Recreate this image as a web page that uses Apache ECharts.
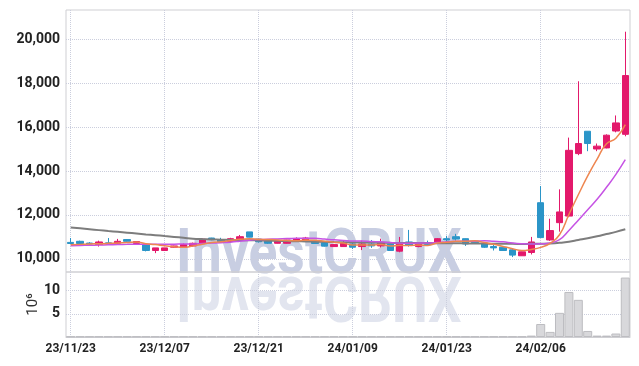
<!DOCTYPE html>
<html>
<head>
<meta charset="utf-8">
<script src="https://cdn.jsdelivr.net/npm/echarts@6/dist/echarts.min.js"></script>
<style>
  html, body { margin: 0; padding: 0; background: #fff; }
  #chart { width: 639px; height: 366px; }
</style>
</head>
<body>
<div id="chart"></div>
<script>
// trading days (KRX)
const dates = [
  '23/11/23', '23/11/24', '23/11/27', '23/11/28', '23/11/29', '23/11/30', '23/12/01', '23/12/04', '23/12/05', '23/12/06',
  '23/12/07', '23/12/08', '23/12/11', '23/12/12', '23/12/13', '23/12/14', '23/12/15', '23/12/18', '23/12/19', '23/12/20',
  '23/12/21', '23/12/22', '23/12/26', '23/12/27', '23/12/28', '24/01/02', '24/01/03', '24/01/04', '24/01/05', '24/01/08',
  '24/01/09', '24/01/10', '24/01/11', '24/01/12', '24/01/15', '24/01/16', '24/01/17', '24/01/18', '24/01/19', '24/01/22',
  '24/01/23', '24/01/24', '24/01/25', '24/01/26', '24/01/29', '24/01/30', '24/01/31', '24/02/01', '24/02/02', '24/02/05',
  '24/02/06', '24/02/07', '24/02/08', '24/02/13', '24/02/14', '24/02/15', '24/02/16', '24/02/19', '24/02/20', '24/02/21',
];

const opens = [
  10750, 10800, 10720, 10650, 10730, 10710, 10880, 10700, 10650, 10380,
  10380, 10530, 10550, 10590, 10700, 10950, 10860, 10800, 10860, 11230,
  10900, 10830, 10710, 10710, 10800, 10840, 10770, 10740, 10560, 10560,
  10680, 10560, 10680, 10590, 10680, 10350, 10770, 10560, 10740, 10710,
  10920, 11010, 10920, 10800, 10710, 10560, 10530, 10410, 10140, 10290,
  12560, 10860, 11650, 11950, 14800, 15820, 15010, 15060, 15830, 15680,
];
const closes = [
  10700, 10700, 10680, 10770, 10680, 10800, 10800, 10790, 10380, 10500,
  10500, 10590, 10650, 10710, 10900, 10880, 10770, 10920, 11010, 10990,
  10780, 10710, 10830, 10860, 10920, 10950, 10700, 10580, 10650, 10710,
  10530, 10680, 10590, 10740, 10380, 10710, 10620, 10710, 10650, 10920,
  10860, 10900, 10680, 10740, 10530, 10500, 10380, 10170, 10320, 10770,
  10970, 11290, 12140, 14950, 15260, 15260, 15140, 15640, 16200, 18360,
];
const lows = [
  10690, 10680, 10650, 10560, 10650, 10640, 10780, 10690, 10340, 10260,
  10370, 10510, 10500, 10560, 10680, 10850, 10750, 10780, 10850, 10980,
  10740, 10680, 10700, 10700, 10780, 10820, 10680, 10560, 10550, 10550,
  10450, 10400, 10500, 10520, 10380, 10300, 10560, 10530, 10620, 10680,
  10680, 10830, 10590, 10720, 10500, 10380, 10360, 10080, 10130, 10200,
  10950, 10820, 11240, 11900, 14730, 14910, 14910, 15040, 15770, 15590,
];
const highs = [
  10950, 10830, 10760, 10830, 10950, 10910, 10900, 10800, 10700, 10500,
  10500, 10600, 10700, 10740, 10920, 10960, 10960, 10960, 11090, 11230,
  10900, 10830, 10840, 10870, 10980, 11000, 10790, 10760, 10660, 10830,
  10760, 10830, 10860, 10920, 10700, 11000, 11320, 10740, 10830, 10950,
  11050, 11140, 10930, 10820, 10720, 10650, 10540, 10450, 10330, 11000,
  13320, 11830, 13170, 15530, 18100, 15820, 15260, 15680, 16540, 20360,
];

// moving averages
const ma5 = [
  10640, 10660, 10680, 10690, 10706, 10726, 10746, 10768, 10690, 10654,
  10594, 10552, 10524, 10590, 10670, 10746, 10782, 10836, 10896, 10914,
  10894, 10882, 10864, 10834, 10820, 10854, 10852, 10802, 10760, 10718,
  10634, 10630, 10632, 10650, 10584, 10620, 10608, 10632, 10614, 10722,
  10752, 10808, 10802, 10820, 10742, 10670, 10566, 10464, 10380, 10428,
  10522, 10704, 11098, 12024, 12922, 13780, 14550, 15250, 15500, 16120,
];
const ma10 = [
  10600, 10610, 10620, 10630, 10640, 10650, 10660, 10665, 10670, 10670,
  10660, 10669, 10676, 10680, 10702, 10720, 10737, 10760, 10803, 10852,
  10880, 10892, 10910, 10925, 10937, 10944, 10937, 10903, 10867, 10839,
  10814, 10811, 10787, 10775, 10741, 10717, 10709, 10722, 10722, 10743,
  10776, 10798, 10807, 10807, 10822, 10801, 10777, 10723, 10690, 10675,
  10686, 10725, 10871, 11292, 11765, 12241, 12717, 13264, 13852, 14521,
];
const ma60 = [
  11430, 11390, 11350, 11310, 11270, 11235, 11195, 11155, 11115, 11080,
  11040, 11000, 10960, 10920, 10900, 10885, 10875, 10865, 10855, 10845,
  10840, 10830, 10820, 10810, 10800, 10795, 10785, 10775, 10765, 10758,
  10750, 10745, 10740, 10735, 10730, 10727, 10724, 10721, 10718, 10716,
  10714, 10710, 10705, 10700, 10695, 10690, 10686, 10683, 10682, 10684,
  10690, 10700, 10730, 10780, 10860, 10940, 11030, 11130, 11230, 11350,
];

// volume, millions of shares
const volumes = [
  0.1, 0.1, 0.1, 0.1, 0.1, 0.1, 0.1, 0.1, 0.1, 0.1,
  0.1, 0.1, 0.1, 0.1, 0.1, 0.1, 0.1, 0.1, 0.1, 0.1,
  0.1, 0.1, 0.1, 0.1, 0.1, 0.1, 0.1, 0.1, 0.1, 0.1,
  0.1, 0.1, 0.1, 0.1, 0.1, 0.1, 0.1, 0.1, 0.1, 0.1,
  0.1, 0.1, 0.1, 0.1, 0.1, 0.1, 0.1, 0.1, 0.1, 0.3,
  2.8, 1.1, 5.2, 9.7, 8.0, 1.3, 0.3, 0.3, 0.75, 12.8,
];

const priceTicks = [10000, 12000, 14000, 16000, 18000, 20000];
const volumeTicks = [5, 10];

const TH = {
  FG_COLOR: '#222222',
  UP_COLOR: '#e3196b',
  DOWN_COLOR: '#2b95c8',
  MA5_COLOR: '#ee8650',
  MA10_COLOR: '#c653e4',
  MA60_COLOR: '#7d7d7d',
  SPLIT_LINE_COLOR: '#cbcedd',
  BORDER_COLOR: '#cfcfd3',
  VOLUME_COLOR: '#d8d8db',
  VOLUME_BORDER: '#bdbdc1',
  MARK_COLOR: '#c8cee2',
  MARK_SHADOW_COLOR: '#e2e5ef',
};
const LABEL_FONT = 'Roboto';

const candles = dates.map((d, i) => [opens[i], closes[i], lows[i], highs[i]]);

const splitLine = {
  show: true,
  alignWithLabel: true,
  interval: 9,
  lineStyle: { color: TH.SPLIT_LINE_COLOR, type: 'dotted', width: 1 },
};

// watermark and its mirror image
const markText = (y, scaleY, fill) => ({
  type: 'text',
  z: -1,
  x: 176,
  y: y,
  scaleX: 0.85,
  scaleY: scaleY,
  style: {
    text: 'InvestCRUX',
    font: 'bold 63px Roboto',
    fill: fill,
  },
});

const option = {
  animation: false,
  graphic: [
    markText(226, 1, TH.MARK_COLOR),
    markText(324, -1, TH.MARK_SHADOW_COLOR),
  ],
  grid: [
    { left: 66, right: 9, top: 10, height: 262, show: true, borderColor: TH.BORDER_COLOR, borderWidth: 1 },
    { left: 66, right: 9, top: 272, height: 65, show: true, borderColor: TH.BORDER_COLOR, borderWidth: 1 },
  ],
  xAxis: [
    {
      type: 'category',
      gridIndex: 0,
      data: dates,
      boundaryGap: true,
      axisLine: { show: false },
      axisTick: { show: false, alignWithLabel: true, interval: 9 },
      axisLabel: { show: false, interval: 9 },
      splitLine: splitLine,
    },
    {
      type: 'category',
      gridIndex: 1,
      data: dates,
      boundaryGap: true,
      axisLine: { show: true, lineStyle: { color: TH.BORDER_COLOR } },
      axisTick: { show: false, alignWithLabel: true, interval: 9 },
      axisLabel: {
        interval: 9,
        color: TH.FG_COLOR,
        fontFamily: LABEL_FONT,
        fontWeight: 'bold',
        fontSize: 12,
        margin: 6,
      },
      splitLine: splitLine,
    },
  ],
  yAxis: [
    {
      type: 'value',
      gridIndex: 0,
      min: 9400,
      max: 21350,
      axisLine: { show: false },
      axisTick: { show: false, customValues: priceTicks },
      axisLabel: {
        customValues: priceTicks,
        color: TH.FG_COLOR,
        fontFamily: LABEL_FONT,
        fontWeight: 'bold',
        fontSize: 14,
        margin: 6,
        formatter: (v) => v.toLocaleString('en-US'),
      },
      splitLine: { lineStyle: { color: TH.SPLIT_LINE_COLOR, type: 'dotted' } },
    },
    {
      type: 'value',
      gridIndex: 1,
      min: 0,
      max: 14,
      name: '10⁶',
      nameLocation: 'middle',
      nameRotate: 90,
      nameGap: 25,
      nameMoveOverlap: false,
      nameTextStyle: { color: '#333', fontSize: 15, fontFamily: 'Roboto' },
      axisLine: { show: false },
      axisTick: { show: false, customValues: volumeTicks },
      axisLabel: {
        customValues: volumeTicks,
        color: TH.FG_COLOR,
        fontFamily: LABEL_FONT,
        fontWeight: 'bold',
        fontSize: 14,
        margin: 6,
      },
      splitLine: { lineStyle: { color: TH.SPLIT_LINE_COLOR, type: 'dotted' } },
    },
  ],
  series: [
    {
      name: 'price',
      type: 'candlestick',
      xAxisIndex: 0,
      yAxisIndex: 0,
      data: candles,
      barWidth: '72%',
      itemStyle: {
        color: TH.UP_COLOR,
        color0: TH.DOWN_COLOR,
        borderColor: TH.UP_COLOR,
        borderColor0: TH.DOWN_COLOR,
        borderWidth: 1,
      },
    },
    {
      name: 'MA60',
      type: 'line',
      data: ma60,
      smooth: true,
      symbol: 'none',
      lineStyle: { color: TH.MA60_COLOR, width: 2 },
    },
    {
      name: 'MA10',
      type: 'line',
      data: ma10,
      smooth: true,
      symbol: 'none',
      lineStyle: { color: TH.MA10_COLOR, width: 1.5 },
    },
    {
      name: 'MA5',
      type: 'line',
      data: ma5,
      smooth: true,
      symbol: 'none',
      lineStyle: { color: TH.MA5_COLOR, width: 1.5 },
    },
    {
      name: 'volume',
      type: 'bar',
      xAxisIndex: 1,
      yAxisIndex: 1,
      data: volumes,
      barCategoryGap: '4%',
      itemStyle: { color: TH.VOLUME_COLOR, borderColor: TH.VOLUME_BORDER, borderWidth: 1 },
    },
  ],
};

const instance = echarts.init(document.getElementById('chart'));
instance.setOption(option);
</script>
</body>
</html>
